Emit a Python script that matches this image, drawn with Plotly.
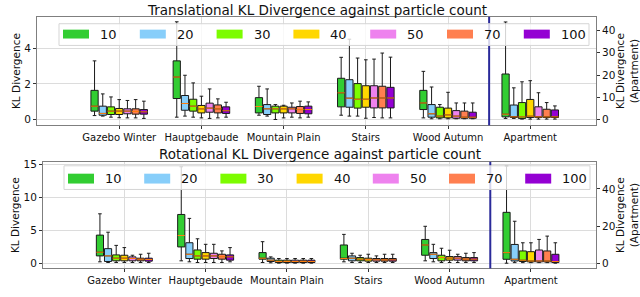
import plotly.graph_objects as go

# ---------------- data ----------------
CATEGORIES = ["Gazebo Winter", "Hauptgebaude", "Mountain Plain", "Stairs", "Wood Autumn", "Apartment"]
PARTICLES = ["10", "20", "30", "40", "50", "70", "100"]
COLORS = ["#32cd32", "#87cefa", "#7cfc00", "#ffd700", "#ee82ee", "#ff7f50", "#9400d3"]

# Translational KL divergence (rows = particle counts, cols = categories; Apartment on right axis)
TRANS_LO = [
    [0.22, 0.13, 0.24, 0.24, 0.09, 0.6],
    [0.19, 0.19, 0.19, 0.19, 0.04, 0.6],
    [0.13, 0.13, 0.00, 0.19, 0.04, 0.3],
    [0.10, 0.09, 0.09, 0.07, 0.04, 0.3],
    [0.09, 0.06, 0.13, 0.11, 0.04, 0.3],
    [0.09, 0.09, 0.09, 0.09, 0.04, 0.3],
    [0.06, 0.13, 0.13, 0.09, 0.04, 0.3],
]
TRANS_Q1 = [
    [0.47, 1.18, 0.37, 0.71, 0.56, 1.3],
    [0.24, 0.52, 0.28, 0.69, 0.13, 1.0],
    [0.28, 0.47, 0.37, 0.64, 0.09, 0.6],
    [0.28, 0.37, 0.37, 0.69, 0.09, 1.0],
    [0.32, 0.41, 0.37, 0.65, 0.07, 1.0],
    [0.30, 0.37, 0.34, 0.65, 0.07, 1.0],
    [0.30, 0.34, 0.32, 0.65, 0.07, 1.0],
]
TRANS_MED = [
    [0.75, 2.39, 0.73, 1.50, 0.93, 2.5],
    [0.34, 0.90, 0.60, 1.20, 0.32, 1.3],
    [0.47, 0.75, 0.60, 1.14, 0.19, 1.3],
    [0.47, 0.60, 0.60, 1.14, 0.26, 1.6],
    [0.47, 0.64, 0.60, 1.21, 0.19, 1.3],
    [0.45, 0.60, 0.56, 1.21, 0.13, 1.3],
    [0.43, 0.49, 0.56, 1.21, 0.13, 1.3],
]
TRANS_Q3 = [
    [1.64, 3.30, 1.23, 2.32, 1.64, 20.5],
    [0.75, 1.35, 0.84, 2.24, 0.84, 6.6],
    [0.71, 1.14, 0.75, 2.02, 0.69, 7.7],
    [0.62, 0.79, 0.75, 1.90, 0.64, 9.1],
    [0.60, 0.92, 0.69, 1.90, 0.50, 5.8],
    [0.60, 0.82, 0.73, 1.87, 0.47, 4.7],
    [0.56, 0.71, 0.75, 1.81, 0.41, 4.4],
]
TRANS_HI = [
    [3.30, 5.50, 1.87, 3.50, 2.71, 43.8],
    [1.44, 2.49, 1.72, 4.52, 1.83, 14.3],
    [1.27, 2.06, 0.84, 3.46, 0.84, 17.0],
    [1.12, 1.31, 0.80, 3.36, 1.53, 17.5],
    [1.07, 1.72, 0.93, 3.40, 0.93, 12.1],
    [1.12, 1.16, 1.03, 3.74, 0.93, 7.7],
    [1.03, 0.97, 0.99, 3.51, 0.93, 6.2],
]

# Rotational KL divergence
ROT_LO = [
    [0.20, 0.35, 0.10, 0.20, 0.35, 0.0],
    [0.10, 0.20, 0.05, 0.10, 0.20, 0.3],
    [0.10, 0.10, 0.00, 0.10, 0.10, 0.3],
    [0.10, 0.10, 0.00, 0.10, 0.10, 0.3],
    [0.10, 0.10, 0.00, 0.10, 0.10, 0.3],
    [0.10, 0.10, 0.00, 0.10, 0.10, 0.3],
    [0.10, 0.20, 0.00, 0.10, 0.10, 0.0],
]
ROT_Q1 = [
    [1.10, 2.46, 0.60, 0.60, 1.20, 2.1],
    [0.25, 0.70, 0.25, 0.35, 0.70, 1.2],
    [0.35, 0.60, 0.10, 0.35, 0.35, 0.9],
    [0.35, 0.60, 0.10, 0.30, 0.45, 0.7],
    [0.35, 0.70, 0.10, 0.30, 0.45, 0.7],
    [0.35, 0.60, 0.10, 0.30, 0.35, 0.7],
    [0.30, 0.45, 0.10, 0.30, 0.35, 0.35],
]
ROT_MED = [
    [1.66, 4.20, 0.75, 0.70, 2.76, 5.7],
    [1.10, 1.35, 0.45, 0.75, 1.35, 2.1],
    [0.75, 1.10, 0.25, 0.60, 0.85, 1.6],
    [0.75, 1.10, 0.25, 0.55, 0.75, 1.2],
    [0.70, 1.10, 0.25, 0.50, 0.75, 1.2],
    [0.60, 1.00, 0.25, 0.50, 0.60, 1.2],
    [0.55, 0.95, 0.25, 0.50, 0.60, 0.9],
]
ROT_Q3 = [
    [4.26, 7.40, 1.60, 2.76, 3.60, 27.4],
    [2.20, 3.10, 0.75, 1.10, 1.60, 10.1],
    [1.25, 2.00, 0.45, 0.85, 1.20, 6.6],
    [1.20, 1.60, 0.45, 0.75, 1.00, 6.2],
    [0.95, 1.50, 0.45, 0.70, 1.00, 7.1],
    [0.75, 1.35, 0.45, 0.70, 0.85, 6.6],
    [0.75, 1.25, 0.45, 0.70, 0.85, 4.8],
]
ROT_HI = [
    [7.50, 14.65, 3.26, 4.37, 5.60, 52.3],
    [4.70, 6.80, 0.95, 1.50, 2.86, 22.6],
    [2.70, 3.70, 0.70, 1.20, 2.26, 11.0],
    [2.36, 2.86, 0.70, 1.35, 1.96, 11.0],
    [1.20, 2.86, 0.70, 1.10, 1.35, 12.8],
    [1.35, 1.86, 0.70, 1.35, 1.50, 14.6],
    [1.50, 2.36, 0.70, 1.35, 1.60, 11.0],
]

# ---------------- layout helpers ----------------
W, H = 640, 297
FONT = "DejaVu Sans"


def px(x):
    return x / W


def py(y):
    return 1 - y / H


BOX_STEP = 0.1
BOX_W = 0.088
SPLIT = 5.5
N_LEFT = 5

PANELS = [
    dict(title="Translational KL Divergence against particle count", title_y=6,
         stats=(TRANS_LO, TRANS_Q1, TRANS_MED, TRANS_Q3, TRANS_HI),
         x="x", y="y", y2="y2", xname="xaxis", yname="yaxis", y2name="yaxis2",
         xdom=(37, 596), ydom=(13, 123), yrange=[-0.33, 5.78], ytick=[0, 2, 4],
         y2range=[-2.5, 46.1], y2tick=[0, 10, 20, 30, 40],
         leg_box=(59, 20, 589, 42), leg_x0=63, leg_step=76.8, leg_y=(26, 35)),
    dict(title="Rotational KL Divergence against particle count", title_y=152,
         stats=(ROT_LO, ROT_Q1, ROT_MED, ROT_Q3, ROT_HI),
         x="x2", y="y3", y2="y4", xname="xaxis2", yname="yaxis3", y2name="yaxis4",
         xdom=(43, 596), ydom=(160, 268), yrange=[-0.8, 15.4], ytick=[0, 5, 10, 15],
         y2range=[-2.8, 54.6], y2tick=[0, 20, 40],
         leg_box=(64, 164, 590, 188), leg_x0=68, leg_step=76.2, leg_y=(172, 182)),
]

fig = go.Figure()
shapes = []
annotations = []
layout_axes = {}

AX_LINE = "#7f7f7f"
GRID = "#dcdcdc"

for p in PANELS:
    lo, q1, med, q3, hi = p["stats"]
    for j, name in enumerate(PARTICLES):
        off = (j - 3) * BOX_STEP
        for side in ("left", "right"):
            idx = range(N_LEFT) if side == "left" else range(N_LEFT, len(CATEGORIES))
            xs = [i + 1 + off for i in idx]
            fig.add_trace(go.Box(
                x=xs,
                q1=[q1[j][i] for i in idx],
                median=[med[j][i] for i in idx],
                q3=[q3[j][i] for i in idx],
                lowerfence=[lo[j][i] for i in idx],
                upperfence=[hi[j][i] for i in idx],
                width=BOX_W, whiskerwidth=0.5,
                fillcolor=COLORS[j], line=dict(color="#1a1a1a", width=1),
                boxpoints=False, showlegend=False, hoverinfo="skip", name=name,
                xaxis=p["x"], yaxis=p["y"] if side == "left" else p["y2"],
            ))
            # orange median lines (matplotlib style)
            mx, my = [], []
            for i in idx:
                cx = i + 1 + off
                mx += [cx - BOX_W / 2, cx + BOX_W / 2, None]
                my += [med[j][i], med[j][i], None]
            fig.add_trace(go.Scatter(
                x=mx, y=my, mode="lines", line=dict(color="#ff7f0e", width=1),
                showlegend=False, hoverinfo="skip",
                xaxis=p["x"], yaxis=p["y"] if side == "left" else p["y2"],
            ))

    # axes
    xd = [px(p["xdom"][0]), px(p["xdom"][1])]
    yd = [py(p["ydom"][1]), py(p["ydom"][0])]
    layout_axes[p["xname"]] = dict(
        domain=xd, anchor=p["y"], range=[0, 6.8],
        tickvals=[i + 1 for i in range(len(CATEGORIES))], ticktext=CATEGORIES,
        showgrid=True, gridcolor=GRID, gridwidth=1, zeroline=False,
        showline=True, linecolor=AX_LINE, linewidth=1, mirror=True,
        ticks="outside", ticklen=3, tickcolor="#333",
        tickfont=dict(family=FONT, size=10, color="#111"),
    )
    layout_axes[p["yname"]] = dict(
        domain=yd, anchor=p["x"], range=p["yrange"], tickvals=p["ytick"],
        showgrid=True, gridcolor=GRID, gridwidth=1, zeroline=False,
        showline=True, linecolor=AX_LINE, linewidth=1, mirror=True,
        ticks="outside", ticklen=3, tickcolor="#333",
        tickfont=dict(family=FONT, size=10.5, color="#111"),
        title=dict(text="KL Divergence", font=dict(family=FONT, size=10.5, color="#111"), standoff=1),
    )
    layout_axes[p["y2name"]] = dict(
        overlaying=p["y"], side="right", anchor=p["x"], range=p["y2range"], tickvals=p["y2tick"],
        showgrid=False, zeroline=False, showline=False,
        ticks="outside", ticklen=3, tickcolor="#333",
        tickfont=dict(family=FONT, size=10.5, color="#111"),
        title=dict(text="KL Divergence<br>(Apartment)", font=dict(family=FONT, size=10.5, color="#111"), standoff=3),
    )

    # split line between outdoor datasets and apartment
    shapes.append(dict(type="line", xref=p["x"], yref=p["y"] + " domain", x0=SPLIT, x1=SPLIT, y0=0, y1=1,
                       line=dict(color="#2a2a9a", width=2), layer="above"))

    # panel title
    annotations.append(dict(text=p["title"], x=(xd[0] + xd[1]) / 2, y=py(p["title_y"]), xref="paper", yref="paper",
                            xanchor="center", yanchor="middle", showarrow=False,
                            font=dict(family=FONT, size=13.5, color="#111")))

    # legend (matplotlib-like, drawn manually)
    bx0, by0, bx1, by1 = p["leg_box"]
    shapes.append(dict(type="rect", xref="paper", yref="paper", x0=px(bx0), x1=px(bx1), y0=py(by1), y1=py(by0),
                       fillcolor="rgba(255,255,255,0.8)", line=dict(color="#d5d5d5", width=1), layer="above"))
    for j, name in enumerate(PARTICLES):
        lx = p["leg_x0"] + j * p["leg_step"]
        shapes.append(dict(type="rect", xref="paper", yref="paper", x0=px(lx), x1=px(lx + 26),
                           y0=py(p["leg_y"][1]), y1=py(p["leg_y"][0]),
                           fillcolor=COLORS[j], line=dict(width=0), layer="above"))
        annotations.append(dict(text=name, x=px(lx + 35), y=py((p["leg_y"][0] + p["leg_y"][1]) / 2),
                                xref="paper", yref="paper", xanchor="left", yanchor="middle", showarrow=False,
                                font=dict(family=FONT, size=13, color="#111")))

fig.update_layout(
    width=W, height=H, margin=dict(l=0, r=0, t=0, b=0),
    paper_bgcolor="white", plot_bgcolor="white",
    boxmode="overlay", showlegend=False,
    shapes=shapes, annotations=annotations,
    font=dict(family=FONT),
    **layout_axes,
)

fig.write_html("out.html", config={"displayModeBar": False},
               post_script="document.body.style.margin='0';document.body.style.overflow='hidden';")
